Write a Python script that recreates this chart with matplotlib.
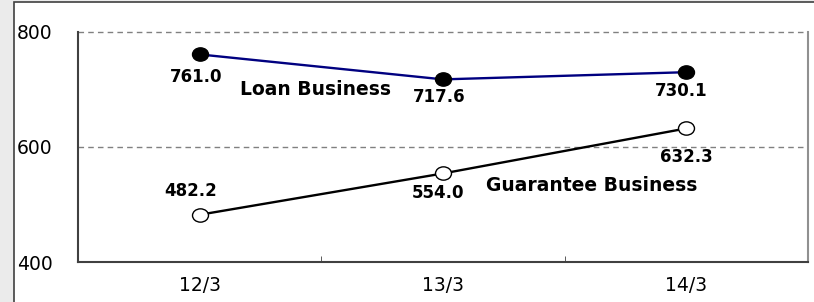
import matplotlib.pyplot as plt
from matplotlib.patches import Rectangle
from matplotlib.path import Path

periods = ['12/3', '13/3', '14/3']
loan = [761.0, 717.6, 730.1]
guarantee = [482.2, 554.0, 632.3]
loan_label_offsets = [(-4, -23), (-4, -18), (-5, -19)]
guar_label_offsets = [(-9, 24), (-5, -20), (0, -29)]

fig = plt.figure(figsize=(8.14, 3.02), dpi=100, facecolor='#ebebeb')
# white panel with only its left and top edges inside the picture
fig.patches.append(Rectangle((14 / 814, -0.1), 1.1, 1.1 - 2.5 / 302, transform=fig.transFigure,
                             facecolor='white', edgecolor='#404040', linewidth=1.2, zorder=-5))

ax = fig.add_axes([78 / 814, 1 - 262 / 302, 730 / 814, 230 / 302])
ax.set_facecolor('none')
x = list(range(len(periods)))

# slightly wide ellipse marker, like the original
circ = Path.unit_circle()
oval = Path(circ.vertices * [1.2, 1.0], circ.codes)

ax.plot(x, loan, color='#000080', lw=1.7, marker=oval, ms=11.5,
        markerfacecolor='black', markeredgecolor='black', zorder=3)
ax.plot(x, guarantee, color='black', lw=1.7, marker=oval, ms=11.5,
        markerfacecolor='white', markeredgecolor='black', mew=1.0, zorder=3)

for xi, v, off in zip(x, loan, loan_label_offsets):
    ax.annotate(f'{v:.1f}', (xi, v), xytext=off, textcoords='offset pixels',
                ha='center', va='center', fontsize=12, fontweight='bold')
for xi, v, off in zip(x, guarantee, guar_label_offsets):
    ax.annotate(f'{v:.1f}', (xi, v), xytext=off, textcoords='offset pixels',
                ha='center', va='center', fontsize=12, fontweight='bold')

ax.annotate('Loan Business', (0, loan[0]), xytext=(116, -35), textcoords='offset pixels',
            ha='center', va='center', fontsize=13.5, fontweight='bold')
ax.annotate('Guarantee Business', (1, guarantee[1]), xytext=(149, -12), textcoords='offset pixels',
            ha='center', va='center', fontsize=13.5, fontweight='bold')

ax.set_xlim(-0.5, 2.5)
ax.set_ylim(400, 800)
ax.set_yticks([400, 600, 800])
ax.set_xticks(x)
ax.set_xticklabels(periods)
ax.set_xticks([0.5, 1.5], minor=True)
ax.tick_params(axis='x', which='major', length=0, pad=10, labelsize=13.5)
ax.tick_params(axis='x', which='minor', length=4.5, direction='in', color='#404040')
ax.tick_params(axis='y', length=0, pad=44, labelsize=13.5)
for lbl in ax.get_yticklabels():
    lbl.set_horizontalalignment('left')

for yv in [600, 800]:
    ax.axhline(yv, color='#808080', lw=1.0, ls=(0, (4, 3)), clip_on=False, zorder=1)

ax.spines['top'].set_visible(False)
ax.spines['left'].set_color('#404040')
ax.spines['left'].set_linewidth(1.5)
ax.spines['bottom'].set_color('#404040')
ax.spines['bottom'].set_linewidth(1.5)
ax.spines['right'].set_color('#909090')
ax.spines['right'].set_linewidth(1.5)

fig.savefig('out.png', dpi=100, facecolor=fig.get_facecolor())
